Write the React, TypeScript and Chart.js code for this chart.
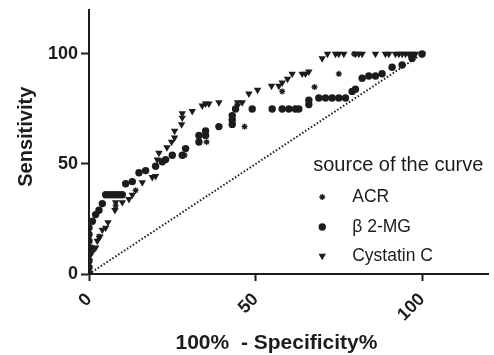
import React, { useEffect, useRef } from "react";
import { Chart, registerables } from "chart.js";

Chart.register(...registerables);

const ACR_X = [0, 0, 1, 3, 8, 14, 28.7, 35.3, 46.7, 58, 67.7, 75, 79.6, 100];
const ACR_Y = [2, 8, 12, 17, 31, 38, 54, 60, 67, 83, 85, 91, 100, 100];

const B2MG_X = [0, 0, 0, 0, 0, 0, 0, 0, 1, 2, 3, 4, 5, 6, 7, 8, 9, 10, 11, 13, 15, 17, 20, 22, 23, 25, 28, 29, 33, 33, 35, 35, 39, 43, 43, 43, 44, 49, 55, 58, 60, 62, 63, 66, 66, 69, 71, 73, 75, 77, 79, 80, 82, 84, 86, 88, 91, 94, 97, 100];
const B2MG_Y = [0, 3, 6, 9, 12, 15, 18, 21, 24, 27, 29, 32, 36, 36, 36, 36, 36, 36, 41, 42, 46, 47, 49, 51, 52, 54, 54, 57, 60, 63, 63, 65, 67, 68, 70, 72, 75, 75, 75, 75, 75, 75, 75, 77, 79, 80, 80, 80, 80, 80, 83, 84, 89, 90, 90, 91, 94, 95, 98, 100];

const CYS_X = [0, 0, 0, 1, 2, 2.5, 3.3, 4, 5, 5.7, 7.8, 8, 10, 12, 13, 16, 19, 20, 20.5, 21, 23.4, 24.8, 25.7, 25.7, 27.8, 28, 28, 31, 34, 35, 36, 39, 44.6, 44.6, 46, 48, 50.6, 54.8, 57, 58, 59.6, 61, 64, 65, 66, 70, 71.6, 74, 75, 76.5, 80, 81, 82, 86, 89, 90, 92, 93, 94, 95, 96, 97, 98, 100];
const CYS_Y = [3, 6, 9, 10, 12, 15, 17, 20, 21, 23.5, 29, 32.6, 32.6, 34, 36, 41.6, 44, 44.5, 52, 55, 57.5, 60, 62, 65, 68, 71, 73, 74, 76.5, 77.4, 77.4, 78, 78, 76.5, 78, 82, 83.7, 85.5, 85.5, 87, 88.7, 91, 91, 91, 92, 98, 100, 100, 100, 100, 100, 100, 100, 100, 100, 100, 100, 100, 100, 100, 100, 100, 100, 100];

const REF_X = [0, 100];
const REF_Y = [0, 100];

const X_TICKS = [0, 50, 100];
const Y_TICKS = [0, 50, 100];
const AXIS_MAX = 120;

const SERIES_NAMES = ["ACR", "β 2-MG", "Cystatin C"];
const LEGEND_TITLE = "source of the curve";
const X_TITLE = "100%  - Specificity%";
const Y_TITLE = "Sensitivity";

const FONT = '"Liberation Sans", Arial, sans-serif';
const INK = "#1c1c1c";

const toPoints = (xs: number[], ys: number[]) => xs.map((x, i) => ({ x, y: ys[i] }));

function drawMarker(ctx: CanvasRenderingContext2D, kind: string, x: number, y: number) {
  ctx.save();
  ctx.fillStyle = INK;
  ctx.strokeStyle = INK;
  if (kind === "star") {
    const r = 3;
    ctx.lineWidth = 1.3;
    ctx.beginPath();
    for (let k = 0; k < 4; k++) {
      const a = (k * Math.PI) / 4;
      ctx.moveTo(x - Math.cos(a) * r, y - Math.sin(a) * r);
      ctx.lineTo(x + Math.cos(a) * r, y + Math.sin(a) * r);
    }
    ctx.stroke();
  } else if (kind === "circle") {
    ctx.beginPath();
    ctx.arc(x, y, 3.7, 0, Math.PI * 2);
    ctx.fill();
  } else {
    const r = 4.3;
    ctx.beginPath();
    ctx.moveTo(x, y + r);
    ctx.lineTo(x - r * 0.866, y - r / 2);
    ctx.lineTo(x + r * 0.866, y - r / 2);
    ctx.closePath();
    ctx.fill();
  }
  ctx.restore();
}

const overlayPlugin = {
  id: "overlay",
  afterDraw(chart: any) {
    const ctx: CanvasRenderingContext2D = chart.ctx;
    const a = chart.chartArea;
    ctx.save();
    ctx.fillStyle = INK;
    ctx.textBaseline = "middle";
    // axis titles
    ctx.font = `bold 21px ${FONT}`;
    ctx.textAlign = "center";
    ctx.fillText(X_TITLE, a.left + (a.right - a.left) * 0.469, 343);
    ctx.font = `bold 20px ${FONT}`;
    ctx.save();
    ctx.translate(26, a.top + (a.bottom - a.top) * 0.48);
    ctx.rotate(-Math.PI / 2);
    ctx.fillText(Y_TITLE, 0, 0);
    ctx.restore();
    // legend
    const lx = a.left + (a.right - a.left) * 0.561;
    ctx.textAlign = "left";
    ctx.font = `20px ${FONT}`;
    ctx.fillText(LEGEND_TITLE, lx, 165);
    ctx.font = `17.5px ${FONT}`;
    const kinds = ["star", "circle", "triangle"];
    const rows = [197, 227, 256];
    SERIES_NAMES.forEach((name, i) => {
      drawMarker(ctx, kinds[i], lx + 9, rows[i]);
      ctx.fillStyle = INK;
      ctx.fillText(name, lx + 39, rows[i]);
    });
    ctx.restore();
  },
};

export default function App() {
  const ref = useRef<HTMLCanvasElement>(null);
  useEffect(() => {
    document.body.style.margin = "0";
    const canvas = ref.current;
    if (!canvas) return;
    const chart = new Chart(canvas, {
      type: "scatter",
      data: {
        datasets: [
          {
            label: SERIES_NAMES[2],
            data: toPoints(CYS_X, CYS_Y),
            pointStyle: "triangle",
            rotation: 180,
            pointRadius: 4.3,
            backgroundColor: INK,
            borderColor: INK,
            borderWidth: 0,
          },
          {
            label: SERIES_NAMES[1],
            data: toPoints(B2MG_X, B2MG_Y),
            pointStyle: "circle",
            pointRadius: 3.7,
            backgroundColor: INK,
            borderColor: INK,
            borderWidth: 0,
          },
          {
            label: SERIES_NAMES[0],
            data: toPoints(ACR_X, ACR_Y),
            pointStyle: "star",
            pointRadius: 3,
            backgroundColor: INK,
            borderColor: INK,
            borderWidth: 1.3,
          },
          {
            label: "identity",
            data: toPoints(REF_X, REF_Y),
            showLine: true,
            pointRadius: 0,
            borderColor: INK,
            borderWidth: 2,
            borderDash: [1.5, 2],
            fill: false,
          } as any,
        ],
      },
      options: {
        responsive: false,
        animation: false,
        layout: { padding: { top: 10, right: 4, left: 0, bottom: 0 } },
        plugins: {
          legend: { display: false },
          tooltip: { enabled: false },
          title: { display: false },
        },
        scales: {
          x: {
            type: "linear",
            min: 0,
            max: AXIS_MAX,
            afterBuildTicks: (scale: any) => {
              scale.ticks = X_TICKS.map((v) => ({ value: v }));
            },
            afterFit: (scale: any) => {
              scale.height = 81;
            },
            ticks: {
              minRotation: 45,
              maxRotation: 45,
              padding: 8,
              color: INK,
              font: { family: FONT, size: 18, weight: "bold" },
            },
            grid: {
              drawOnChartArea: false,
              drawTicks: true,
              tickLength: 7,
              tickWidth: 2,
              tickColor: INK,
              color: INK,
            },
            border: { display: true, color: INK, width: 2 },
          },
          y: {
            type: "linear",
            min: 0,
            max: AXIS_MAX,
            afterBuildTicks: (scale: any) => {
              scale.ticks = Y_TICKS.map((v) => ({ value: v }));
            },
            afterFit: (scale: any) => {
              scale.width = 89;
              scale.paddingTop = 0;
              scale.paddingBottom = 0;
            },
            ticks: {
              padding: 3,
              color: INK,
              font: { family: FONT, size: 18, weight: "bold" },
            },
            grid: {
              drawOnChartArea: false,
              drawTicks: true,
              tickLength: 8,
              tickWidth: 2,
              tickColor: INK,
              color: INK,
            },
            border: { display: true, color: INK, width: 2 },
          },
        },
      },
      plugins: [overlayPlugin],
    } as any);
    return () => chart.destroy();
  }, []);
  return (
    <div style={{ width: 494, height: 355, background: "#fff" }}>
      <canvas ref={ref} width={494} height={355} style={{ display: "block" }} />
    </div>
  );
}
